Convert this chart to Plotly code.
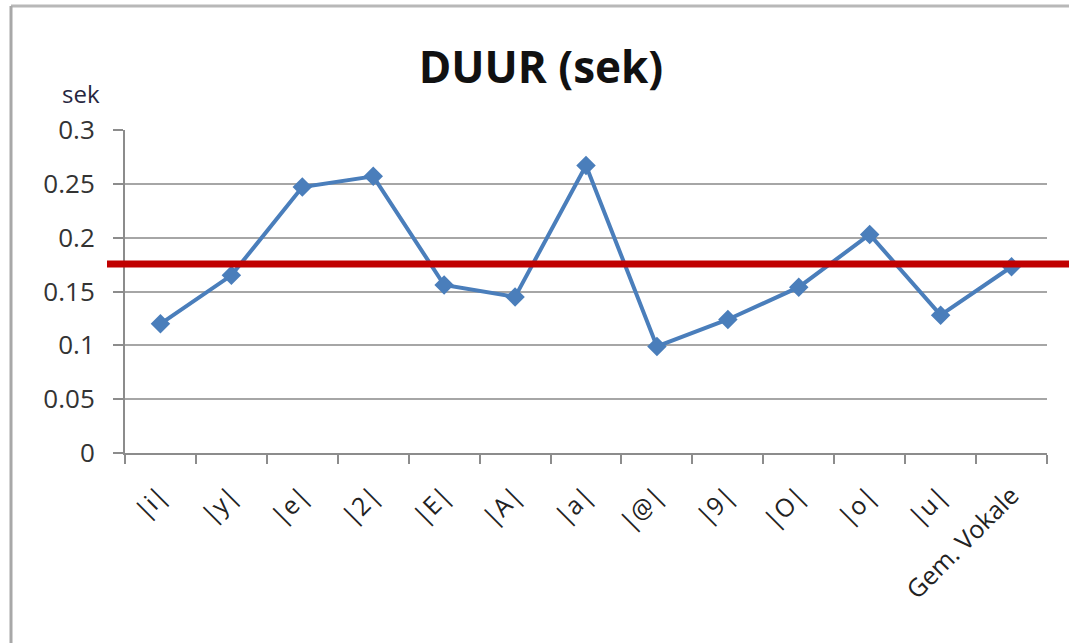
import plotly.graph_objects as go

categories = ["|i|", "|y|", "|e|", "|2|", "|E|", "|A|", "|a|", "|@|", "|9|", "|O|", "|o|", "|u|", "Gem. Vokale"]
duur = [0.120, 0.165, 0.247, 0.257, 0.156, 0.145, 0.267, 0.099, 0.124, 0.154, 0.203, 0.128, 0.173]
mean_line = 0.1755
y_ticks = [0, 0.05, 0.1, 0.15, 0.2, 0.25, 0.3]
y_ticktext = ["0", "0.05", "0.1", "0.15", "0.2", "0.25", "0.3"]

W, H = 1069, 643
L, R, T, B = 125, 1047, 130, 453

def px(x):
    return (x - L) / (R - L)

def py(y):
    return (B - y) / (B - T)

fig = go.Figure()
fig.add_trace(go.Scatter(
    x=categories, y=duur, mode="lines+markers",
    line=dict(color="#4A7EBB", width=4),
    marker=dict(symbol="diamond", size=15, color="#4A7EBB"),
    hoverinfo="x+y", showlegend=False,
))

font_family = "Open Sans, Liberation Sans, sans-serif"

fig.update_layout(
    width=W, height=H,
    margin=dict(l=L, r=W - R, t=T, b=H - B, pad=0),
    paper_bgcolor="white", plot_bgcolor="white",
    title=dict(text="<b>DUUR (sek)</b>", x=541 / W, xanchor="center",
               y=1 - 68 / H, yanchor="middle", yref="container",
               font=dict(family=font_family, size=44, color="#111111")),
    xaxis=dict(
        type="category", range=[-0.5, len(categories) - 0.5],
        tickson="boundaries", ticks="outside", ticklen=9, tickwidth=2, tickcolor="#8C8C8C",
        showline=True, linecolor="#8C8C8C", linewidth=2, showgrid=False,
        tickangle=-45, ticklabelstandoff=16,
        tickfont=dict(family=font_family, size=25, color="#222222"),
        fixedrange=True,
    ),
    yaxis=dict(
        range=[0, 0.3], tickvals=y_ticks, ticktext=y_ticktext,
        ticks="outside", ticklen=10, tickwidth=2, tickcolor="#8C8C8C",
        showline=True, linecolor="#8C8C8C", linewidth=2,
        showgrid=True, gridcolor="#A6A6A6", gridwidth=2, zeroline=False,
        ticklabelstandoff=13,
        tickfont=dict(family=font_family, size=26, color="#333333"),
        fixedrange=True,
    ),
    shapes=[
        dict(type="line", xref="paper", yref="paper", x0=px(11), x1=px(1075), y0=py(6), y1=py(6),
             line=dict(color="#B8B8B8", width=3)),
        dict(type="line", xref="paper", yref="paper", x0=px(11), x1=px(11), y0=py(6), y1=py(650),
             line=dict(color="#A8A8A8", width=3)),
        dict(type="line", xref="paper", yref="y", x0=px(107), x1=px(1075), y0=mean_line, y1=mean_line,
             line=dict(color="#C00000", width=7), layer="above"),
    ],
    annotations=[
        dict(text="sek", xref="paper", yref="paper", x=px(81), y=py(93), xanchor="center", yanchor="middle",
             showarrow=False, font=dict(family=font_family, size=24, color="#262640")),
    ],
)

fig.write_html("out.html", config={"displayModeBar": False},
               post_script="document.body.style.margin='0';")
